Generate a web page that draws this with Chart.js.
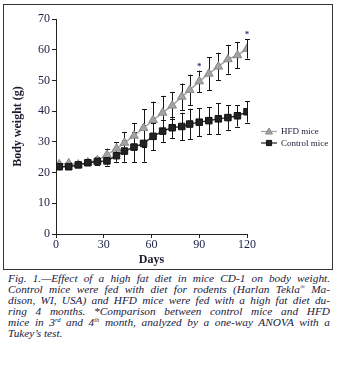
<!DOCTYPE html>
<html>
<head>
<meta charset="utf-8">
<script src="https://cdn.jsdelivr.net/npm/chart.js@4.4.1/dist/chart.umd.min.js"></script>
<style>
  html, body { margin: 0; padding: 0; background: #fff; }
  body { width: 337px; height: 369px; position: relative; overflow: hidden; }
  #frame { position: absolute; left: 3px; top: 4px; width: 330px; height: 266px; box-sizing: border-box; border: 1px solid #333; }
  #c { position: absolute; left: 3px; top: 4px; }
  #cap { position: absolute; left: 8px; top: 273px; width: 322px; font-family: "Liberation Serif", "DejaVu Serif", serif; font-style: italic; font-size: 11.3px; line-height: 11px; color: #202040; }
  #cap div { white-space: nowrap; text-align: justify; text-align-last: justify; }
  #cap div.last { text-align-last: left; }
  #cap sup { font-size: 6.5px; line-height: 0; vertical-align: 4px; }
</style>
</head>
<body>
<div id="frame"></div>
<canvas id="c" width="330" height="266"></canvas>
<div id="cap">
  <div>Fig. 1.—Effect of a high fat diet in mice CD-1 on body weight.</div>
  <div>Control mice were fed with diet for rodents (Harlan Tekla<sup>®</sup> Ma-</div>
  <div>dison, WI, USA) and HFD mice were fed with a high fat diet du-</div>
  <div>ring 4 months. *Comparison between control mice and HFD</div>
  <div>mice in 3<sup>rd</sup> and 4<sup>th</sup> month, analyzed by a one-way ANOVA with a</div>
  <div class="last">Tukey’s test.</div>
</div>
<script>
const days = [2, 8, 14, 20, 26, 32, 38, 43, 49, 55, 61, 67, 73, 79, 84, 90, 96, 102, 108, 114, 120];
const hfd = [22.7, 23.0, 22.6, 23.3, 24.0, 25.8, 27.8, 29.7, 32.0, 34.5, 37.1, 39.5, 41.8, 44.7, 46.9, 49.7, 52.2, 54.5, 56.9, 58.2, 60.3];
const hfdErr = [0.3, 0.3, 0.3, 0.4, 1.0, 2.0, 2.0, 3.4, 4.2, 6.2, 6.0, 5.5, 4.4, 4.3, 5.0, 3.5, 5.3, 4.5, 4.7, 4.3, 3.2];
const control = [21.9, 21.9, 22.5, 23.2, 23.6, 23.8, 25.5, 27.0, 28.3, 29.5, 31.8, 33.5, 34.6, 35.0, 35.8, 36.4, 36.9, 37.5, 37.9, 38.5, 39.8];
const controlErr = [0.4, 0.4, 0.4, 0.6, 1.2, 1.5, 2.0, 3.5, 5.0, 6.0, 4.5, 3.5, 3.5, 4.5, 5.0, 4.5, 4.5, 5.0, 4.0, 3.5, 3.5];
const starDays = [90, 120];
const seriesNames = ["HFD mice", "Control mice"];
const xTicks = [0, 30, 60, 90, 120];
const yTicks = [0, 10, 20, 30, 40, 50, 60, 70];

const serif = "'Liberation Serif', 'DejaVu Serif', serif";
const HFD_COLOR = '#a3a3a3', HFD_EDGE = '#8a8a8a';
const CTRL_COLOR = '#222222', CTRL_EDGE = '#111111';

const errorBars = {
  id: 'errorBars',
  beforeDatasetsDraw(chart) {
    const {ctx, scales: {x, y}} = chart;
    const sets = [[hfd, hfdErr], [control, controlErr]];
    ctx.save();
    ctx.strokeStyle = '#151515';
    ctx.lineWidth = 1;
    sets.forEach(([vals, errs]) => {
      vals.forEach((v, i) => {
        const px = Math.round(x.getPixelForValue(days[i])) + 0.5;
        const top = y.getPixelForValue(v + errs[i]);
        const bot = y.getPixelForValue(v - errs[i]);
        ctx.beginPath();
        ctx.moveTo(px, top); ctx.lineTo(px, bot);
        ctx.moveTo(px - 2.5, Math.round(top) + 0.5); ctx.lineTo(px + 2.5, Math.round(top) + 0.5);
        ctx.moveTo(px - 2.5, Math.round(bot) + 0.5); ctx.lineTo(px + 2.5, Math.round(bot) + 0.5);
        ctx.stroke();
      });
    });
    ctx.restore();
  },
  afterDatasetsDraw(chart) {
    const {ctx, scales: {x, y}} = chart;
    ctx.save();
    ctx.fillStyle = '#2a3070';
    ctx.font = "bold 9px " + serif;
    ctx.textAlign = 'center';
    ctx.textBaseline = 'middle';
    starDays.forEach(d => {
      const i = days.indexOf(d);
      const px = x.getPixelForValue(d);
      const py = y.getPixelForValue(hfd[i] + hfdErr[i]);
      ctx.fillText('*', px, py - 4);
    });
    ctx.restore();
  },
  afterDraw(chart) {
    const {ctx, chartArea} = chart;
    const x0 = chartArea.right + 14;
    const rows = [
      {y: chartArea.top + 112.5, color: HFD_COLOR, edge: HFD_EDGE, style: 'triangle', name: seriesNames[0]},
      {y: chartArea.top + 124, color: CTRL_COLOR, edge: CTRL_EDGE, style: 'rect', name: seriesNames[1]}
    ];
    ctx.save();
    rows.forEach(r => {
      ctx.strokeStyle = r.color;
      ctx.lineWidth = 1.2;
      ctx.beginPath();
      ctx.moveTo(x0, r.y); ctx.lineTo(x0 + 16, r.y);
      ctx.stroke();
      ctx.fillStyle = r.color; ctx.strokeStyle = r.edge; ctx.lineWidth = 1;
      ctx.beginPath();
      if (r.style === 'rect') {
        ctx.rect(x0 + 8 - 2.6, r.y - 2.6, 5.2, 5.2);
      } else {
        ctx.moveTo(x0 + 8, r.y - 3.5); ctx.lineTo(x0 + 11.5, r.y + 2.5); ctx.lineTo(x0 + 4.5, r.y + 2.5); ctx.closePath();
      }
      ctx.fill(); ctx.stroke();
      ctx.fillStyle = '#202040';
      ctx.font = "9px " + serif;
      ctx.textAlign = 'left';
      ctx.textBaseline = 'middle';
      ctx.fillText(r.name, x0 + 20, r.y + 0.5);
    });
    ctx.restore();
  }
};

new Chart(document.getElementById('c'), {
  type: 'line',
  data: {
    datasets: [
      {
        label: seriesNames[0],
        data: days.map((d, i) => ({x: d, y: hfd[i]})),
        borderColor: HFD_COLOR,
        backgroundColor: HFD_COLOR,
        pointBorderColor: HFD_EDGE,
        pointStyle: 'triangle',
        pointRadius: 5,
        pointBorderWidth: 1,
        borderWidth: 1.5,
        tension: 0,
        order: 1
      },
      {
        label: seriesNames[1],
        data: days.map((d, i) => ({x: d, y: control[i]})),
        borderColor: CTRL_COLOR,
        backgroundColor: CTRL_COLOR,
        pointBorderColor: CTRL_EDGE,
        pointStyle: 'rect',
        pointRadius: 4.6,
        pointBorderWidth: 1,
        borderWidth: 1.3,
        tension: 0,
        order: 0
      }
    ]
  },
  options: {
    responsive: false,
    animation: false,
    devicePixelRatio: 1,
    layout: { padding: { left: 0, top: 15, right: 86, bottom: 0 } },
    plugins: { legend: { display: false }, tooltip: { enabled: false } },
    scales: {
      x: {
        type: 'linear',
        min: 0, max: 120,
        afterFit(s) { s.height = 36; },
        afterBuildTicks(s) { s.ticks = xTicks.map(v => ({value: v})); },
        ticks: { color: '#23234a', font: { family: serif, size: 12 }, padding: 0, maxRotation: 0 },
        grid: { drawOnChartArea: false, drawTicks: true, tickLength: 4, color: '#222' },
        border: { display: true, color: '#222', width: 1 },
        title: { display: true, text: 'Days', color: '#1a1a30', font: { family: serif, size: 12, weight: 'bold' }, padding: { top: 0, bottom: 3 } }
      },
      y: {
        min: 0, max: 70,
        afterFit(s) { s.width = 53; },
        afterBuildTicks(s) { s.ticks = yTicks.map(v => ({value: v})); },
        ticks: { color: '#23234a', font: { family: serif, size: 12 }, padding: 2 },
        grid: { drawOnChartArea: false, drawTicks: true, tickLength: 4, color: '#222' },
        border: { display: true, color: '#222', width: 1 },
        title: { display: true, text: 'Body weight (g)', color: '#1a1a30', font: { family: serif, size: 12, weight: 'bold' }, padding: { top: 8, bottom: 0 } }
      }
    }
  },
  plugins: [errorBars]
});
</script>
</body>
</html>
